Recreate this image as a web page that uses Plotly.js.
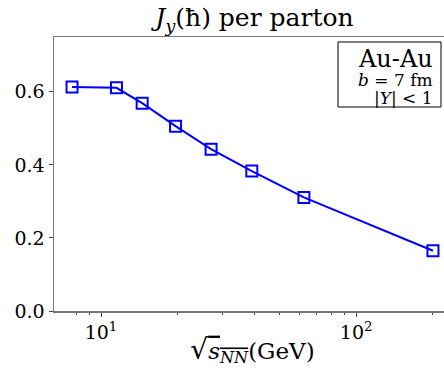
<!DOCTYPE html>
<html>
<head>
<meta charset="utf-8">
<script src="https://cdn.plot.ly/plotly-3.0.1.min.js"></script>
<style>
html, body { margin: 0; padding: 0; overflow: hidden; background: #fff; }
#chart { width: 451px; height: 376px; }
</style>
</head>
<body>
<div id="chart"></div>
<script>
const sqrtS = [7.7, 11.5, 14.5, 19.6, 27, 39, 62.4, 200];
const jyPerParton = [0.613, 0.611, 0.569, 0.506, 0.443, 0.383, 0.311, 0.165];
const xTickVals = [10, 100];
const xTickText = ['10<sup>1</sup>', '10<sup>2</sup>'];
const xMinorVals = [8, 9, 20, 30, 40, 50, 60, 70, 80, 90, 200];
const yTickVals = [0, 0.2, 0.4, 0.6];
const boxLines = ['Au-Au', '<i>b</i> = 7 fm', '|<i>Y</i>| &lt; 1'];

const serif = 'DejaVu Serif';

const trace = {
  x: sqrtS,
  y: jyPerParton,
  type: 'scatter',
  mode: 'lines+markers',
  line: { color: '#0000ff', width: 2 },
  marker: { symbol: 'square-open', size: 11, color: '#0000ff', line: { color: '#0000ff', width: 2 } },
  showlegend: false
};

const boxTextY = [0.920, 0.842, 0.779];
const boxTextSize = [24, 17, 17];
const annotations = boxLines.map((t, i) => ({
  xref: 'paper', yref: 'paper',
  x: 0.958, y: boxTextY[i], xanchor: 'right', yanchor: 'middle', align: 'right',
  text: t, showarrow: false, borderpad: 0,
  font: { family: serif, size: boxTextSize[i], color: '#000' }
}));

const layout = {
  width: 451,
  height: 376,
  margin: { l: 54, r: 0, t: 37, b: 65, pad: 0 },
  paper_bgcolor: '#ffffff',
  plot_bgcolor: '#ffffff',
  font: { family: serif, color: '#000000', size: 18 },
  title: {
    text: '<i>J</i><sub><i>y</i></sub>(ħ) per parton',
    font: { family: serif, size: 25, color: '#000' },
    x: 0.505, xanchor: 'center', xref: 'paper',
    y: 0.953, yanchor: 'middle', yref: 'container'
  },
  xaxis: {
    type: 'log',
    range: [0.8158, 2.3717],
    tickmode: 'array',
    tickvals: xTickVals,
    ticktext: xTickText,
    ticks: 'outside', ticklen: 4, tickwidth: 1, tickcolor: '#444',
    minor: { tickmode: 'array', tickvals: xMinorVals, ticks: 'outside', ticklen: 2, tickwidth: 1, tickcolor: '#444', showgrid: false },
    showgrid: false, zeroline: false,
    showline: true, linecolor: '#777', linewidth: 1.5, mirror: true,
    tickfont: { family: serif, size: 19, color: '#000' },
    title: {
      text: '<span style="font-size:28px">√</span><span style="text-decoration:overline"><i>s</i><sub><i>NN</i></sub></span>(GeV)',
      font: { family: serif, size: 23, color: '#000' },
      standoff: 0
    }
  },
  yaxis: {
    range: [0, 0.75],
    tickmode: 'array',
    tickvals: yTickVals,
    tickformat: '.1f',
    ticks: 'outside', ticklen: 4, tickwidth: 1, tickcolor: '#444',
    showgrid: false, zeroline: false,
    showline: true, linecolor: '#777', linewidth: 1.5, mirror: true,
    tickfont: { family: serif, size: 19, color: '#000' }
  },
  shapes: [{
    type: 'rect', xref: 'paper', yref: 'paper',
    x0: 0.7154, x1: 0.9748, y0: 0.7445, y1: 0.9818,
    line: { color: '#000', width: 1 }, fillcolor: '#fff', layer: 'above'
  }],
  annotations: annotations
};

Plotly.newPlot('chart', [trace], layout, { displayModeBar: false, staticPlot: true });
</script>
</body>
</html>
